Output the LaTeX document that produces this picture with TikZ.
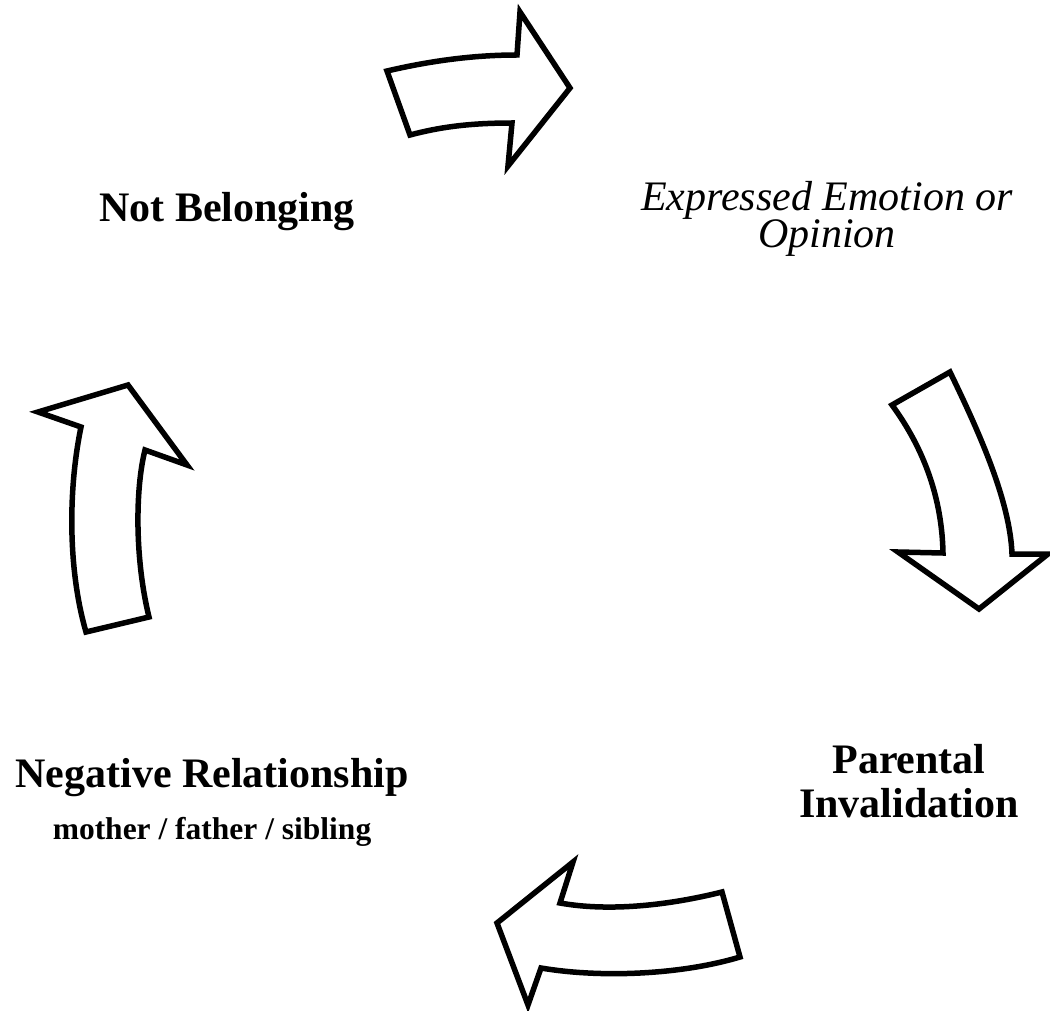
\documentclass[tikz,border=0pt]{standalone}
\usepackage{fontspec}
\setmainfont{Liberation Serif}
\begin{document}
\begin{tikzpicture}[x=1pt,y=-1pt,
  cyclearrow/.style={draw=black,fill=white,line width=5.5pt,line join=miter},
  boldlabel/.style={font=\fontsize{42}{44}\selectfont\bfseries,align=center,inner sep=0pt,anchor=base},
  itlabel/.style={font=\fontsize{42}{38}\selectfont\itshape,align=center,inner sep=0pt,anchor=base},
  sublabel/.style={font=\fontsize{31.5}{34}\selectfont\bfseries,inner sep=0pt,anchor=base}]
\useasboundingbox (0,0) rectangle (1050,1011);
% arrow top
\draw[cyclearrow] (387,71) .. controls (430,61) and (473,55) .. (517,55)
  -- (520,12) -- (570,88) -- (508,166) -- (512,123)
  .. controls (470,123) and (440,127) .. (410,135) -- cycle;
% arrow right
\draw[cyclearrow] (892,405) -- (950,372)
  .. controls (978,430) and (1010,500) .. (1012,554)
  -- (1048,554) -- (979,609) -- (898,552) -- (943,553)
  .. controls (942,500) and (925,450) .. (892,405) -- cycle;
% arrow bottom
\draw[cyclearrow] (722,892) -- (740,957)
  .. controls (680,975) and (600,978) .. (541,968)
  -- (528,1005) -- (497,923) -- (573,862) -- (560,903)
  .. controls (610,912) and (670,905) .. (722,892) -- cycle;
% arrow left
\draw[cyclearrow] (86,632) -- (149,617)
  .. controls (135,560) and (135,490) .. (145,450)
  -- (187,465) -- (128,385) -- (38,412) -- (81,427)
  .. controls (68,490) and (68,570) .. (86,632) -- cycle;
% labels
\node[boldlabel] (notbelonging) at (227,222) {Not Belonging};
\node[itlabel] (expressed) at (827,248) {Expressed Emotion or\\Opinion};
\node[boldlabel] (parental) at (909,817) {Parental\\Invalidation};
\node[boldlabel] (negative) at (212,787) {Negative Relationship};
\node[sublabel] (family) at (212,839) {mother / father / sibling};
\end{tikzpicture}
\end{document}
